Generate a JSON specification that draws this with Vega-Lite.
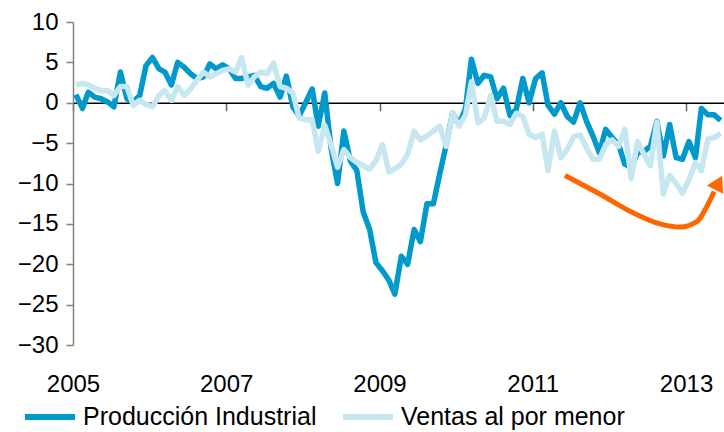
{
  "$schema": "https://vega.github.io/schema/vega-lite/v6.json",
  "width": 651,
  "height": 323,
  "autosize": {"type": "none"},
  "padding": {"left": 73, "top": 22, "right": 0, "bottom": 87},
  "background": "white",
  "config": {"view": {"stroke": null}, "font": "Liberation Sans", "axis": {"grid": false}},
  "datasets": {
    "series": [
      {"d":"2005-01-15","Producción Industrial":1.0,"Ventas al por menor":2.2},
      {"d":"2005-02-15","Producción Industrial":-0.7,"Ventas al por menor":2.4},
      {"d":"2005-03-15","Producción Industrial":1.3,"Ventas al por menor":2.2},
      {"d":"2005-04-15","Producción Industrial":0.7,"Ventas al por menor":1.8},
      {"d":"2005-05-15","Producción Industrial":0.5,"Ventas al por menor":1.5},
      {"d":"2005-06-15","Producción Industrial":0.1,"Ventas al por menor":1.5},
      {"d":"2005-07-15","Producción Industrial":-0.5,"Ventas al por menor":0.9},
      {"d":"2005-08-15","Producción Industrial":3.8,"Ventas al por menor":2.0},
      {"d":"2005-09-15","Producción Industrial":0.5,"Ventas al por menor":2.0},
      {"d":"2005-10-15","Producción Industrial":0.1,"Ventas al por menor":-0.3},
      {"d":"2005-11-15","Producción Industrial":0.9,"Ventas al por menor":0.3},
      {"d":"2005-12-15","Producción Industrial":4.6,"Ventas al por menor":-0.2},
      {"d":"2006-01-15","Producción Industrial":5.6,"Ventas al por menor":-0.5},
      {"d":"2006-02-15","Producción Industrial":4.2,"Ventas al por menor":0.9},
      {"d":"2006-03-15","Producción Industrial":3.8,"Ventas al por menor":1.5},
      {"d":"2006-04-15","Producción Industrial":2.2,"Ventas al por menor":0.3},
      {"d":"2006-05-15","Producción Industrial":5.0,"Ventas al por menor":2.0},
      {"d":"2006-06-15","Producción Industrial":4.4,"Ventas al por menor":0.9},
      {"d":"2006-07-15","Producción Industrial":3.6,"Ventas al por menor":1.7},
      {"d":"2006-08-15","Producción Industrial":3.0,"Ventas al por menor":2.8},
      {"d":"2006-09-15","Producción Industrial":3.2,"Ventas al por menor":3.8},
      {"d":"2006-10-15","Producción Industrial":4.8,"Ventas al por menor":3.2},
      {"d":"2006-11-15","Producción Industrial":4.2,"Ventas al por menor":3.6},
      {"d":"2006-12-15","Producción Industrial":4.7,"Ventas al por menor":4.0},
      {"d":"2007-01-15","Producción Industrial":4.2,"Ventas al por menor":4.2},
      {"d":"2007-02-15","Producción Industrial":3.0,"Ventas al por menor":3.8},
      {"d":"2007-03-15","Producción Industrial":3.0,"Ventas al por menor":5.6},
      {"d":"2007-04-15","Producción Industrial":3.2,"Ventas al por menor":2.2},
      {"d":"2007-05-15","Producción Industrial":3.4,"Ventas al por menor":3.2},
      {"d":"2007-06-15","Producción Industrial":2.0,"Ventas al por menor":3.8},
      {"d":"2007-07-15","Producción Industrial":1.8,"Ventas al por menor":3.6},
      {"d":"2007-08-15","Producción Industrial":2.4,"Ventas al por menor":4.9},
      {"d":"2007-09-15","Producción Industrial":0.7,"Ventas al por menor":2.0},
      {"d":"2007-10-15","Producción Industrial":3.3,"Ventas al por menor":1.8},
      {"d":"2007-11-15","Producción Industrial":-0.5,"Ventas al por menor":1.2},
      {"d":"2007-12-15","Producción Industrial":-1.6,"Ventas al por menor":-1.9},
      {"d":"2008-01-15","Producción Industrial":0.0,"Ventas al por menor":-2.1},
      {"d":"2008-02-15","Producción Industrial":1.7,"Ventas al por menor":-2.1},
      {"d":"2008-03-15","Producción Industrial":-2.9,"Ventas al por menor":-6.0},
      {"d":"2008-04-15","Producción Industrial":1.2,"Ventas al por menor":-2.8},
      {"d":"2008-05-15","Producción Industrial":-5.6,"Ventas al por menor":-5.2},
      {"d":"2008-06-15","Producción Industrial":-10.0,"Ventas al por menor":-8.0},
      {"d":"2008-07-15","Producción Industrial":-3.5,"Ventas al por menor":-5.8},
      {"d":"2008-08-15","Producción Industrial":-7.2,"Ventas al por menor":-6.8},
      {"d":"2008-09-15","Producción Industrial":-8.4,"Ventas al por menor":-7.4},
      {"d":"2008-10-15","Producción Industrial":-13.5,"Ventas al por menor":-7.8},
      {"d":"2008-11-15","Producción Industrial":-15.7,"Ventas al por menor":-8.2},
      {"d":"2008-12-15","Producción Industrial":-19.8,"Ventas al por menor":-7.2},
      {"d":"2009-01-15","Producción Industrial":-20.8,"Ventas al por menor":-5.2},
      {"d":"2009-02-15","Producción Industrial":-22.0,"Ventas al por menor":-8.6},
      {"d":"2009-03-15","Producción Industrial":-23.7,"Ventas al por menor":-8.2},
      {"d":"2009-04-15","Producción Industrial":-19.0,"Ventas al por menor":-7.6},
      {"d":"2009-05-15","Producción Industrial":-20.0,"Ventas al por menor":-6.4},
      {"d":"2009-06-15","Producción Industrial":-15.7,"Ventas al por menor":-3.5},
      {"d":"2009-07-15","Producción Industrial":-17.2,"Ventas al por menor":-4.6},
      {"d":"2009-08-15","Producción Industrial":-12.5,"Ventas al por menor":-4.1},
      {"d":"2009-09-15","Producción Industrial":-12.5,"Ventas al por menor":-3.5},
      {"d":"2009-10-15","Producción Industrial":-8.8,"Ventas al por menor":-2.9},
      {"d":"2009-11-15","Producción Industrial":-5.2,"Ventas al por menor":-5.4},
      {"d":"2009-12-15","Producción Industrial":-1.3,"Ventas al por menor":-1.3},
      {"d":"2010-01-15","Producción Industrial":-2.7,"Ventas al por menor":-2.9},
      {"d":"2010-02-15","Producción Industrial":-0.7,"Ventas al por menor":-1.5},
      {"d":"2010-03-15","Producción Industrial":5.4,"Ventas al por menor":2.6},
      {"d":"2010-04-15","Producción Industrial":2.4,"Ventas al por menor":-2.5},
      {"d":"2010-05-15","Producción Industrial":3.4,"Ventas al por menor":-1.9},
      {"d":"2010-06-15","Producción Industrial":3.2,"Ventas al por menor":0.9},
      {"d":"2010-07-15","Producción Industrial":0.5,"Ventas al por menor":-2.3},
      {"d":"2010-08-15","Producción Industrial":1.8,"Ventas al por menor":-2.3},
      {"d":"2010-09-15","Producción Industrial":-1.6,"Ventas al por menor":-2.7},
      {"d":"2010-10-15","Producción Industrial":-0.8,"Ventas al por menor":-1.3},
      {"d":"2010-11-15","Producción Industrial":3.0,"Ventas al por menor":-1.7},
      {"d":"2010-12-15","Producción Industrial":0.0,"Ventas al por menor":-3.9},
      {"d":"2011-01-15","Producción Industrial":3.0,"Ventas al por menor":-4.3},
      {"d":"2011-02-15","Producción Industrial":3.7,"Ventas al por menor":-3.9},
      {"d":"2011-03-15","Producción Industrial":-0.3,"Ventas al por menor":-8.4},
      {"d":"2011-04-15","Producción Industrial":-1.4,"Ventas al por menor":-3.5},
      {"d":"2011-05-15","Producción Industrial":0.0,"Ventas al por menor":-6.8},
      {"d":"2011-06-15","Producción Industrial":-1.7,"Ventas al por menor":-5.8},
      {"d":"2011-07-15","Producción Industrial":-2.4,"Ventas al por menor":-4.2},
      {"d":"2011-08-15","Producción Industrial":0.0,"Ventas al por menor":-4.0},
      {"d":"2011-09-15","Producción Industrial":-2.3,"Ventas al por menor":-5.6},
      {"d":"2011-10-15","Producción Industrial":-4.1,"Ventas al por menor":-7.0},
      {"d":"2011-11-15","Producción Industrial":-6.2,"Ventas al por menor":-7.0},
      {"d":"2011-12-15","Producción Industrial":-3.3,"Ventas al por menor":-5.2},
      {"d":"2012-01-15","Producción Industrial":-4.3,"Ventas al por menor":-4.6},
      {"d":"2012-02-15","Producción Industrial":-5.2,"Ventas al por menor":-5.4},
      {"d":"2012-03-15","Producción Industrial":-7.6,"Ventas al por menor":-3.3},
      {"d":"2012-04-15","Producción Industrial":-8.0,"Ventas al por menor":-9.4},
      {"d":"2012-05-15","Producción Industrial":-6.2,"Ventas al por menor":-4.8},
      {"d":"2012-06-15","Producción Industrial":-6.0,"Ventas al por menor":-6.4},
      {"d":"2012-07-15","Producción Industrial":-5.4,"Ventas al por menor":-7.8},
      {"d":"2012-08-15","Producción Industrial":-2.3,"Ventas al por menor":-2.4},
      {"d":"2012-09-15","Producción Industrial":-6.6,"Ventas al por menor":-11.3},
      {"d":"2012-10-15","Producción Industrial":-2.7,"Ventas al por menor":-9.0},
      {"d":"2012-11-15","Producción Industrial":-6.8,"Ventas al por menor":-10.0},
      {"d":"2012-12-15","Producción Industrial":-7.0,"Ventas al por menor":-11.2},
      {"d":"2013-01-15","Producción Industrial":-4.8,"Ventas al por menor":-9.5},
      {"d":"2013-02-15","Producción Industrial":-6.8,"Ventas al por menor":-7.4},
      {"d":"2013-03-15","Producción Industrial":-0.7,"Ventas al por menor":-8.4},
      {"d":"2013-04-15","Producción Industrial":-1.5,"Ventas al por menor":-4.5},
      {"d":"2013-05-15","Producción Industrial":-1.5,"Ventas al por menor":-4.3},
      {"d":"2013-06-15","Producción Industrial":-2.2,"Ventas al por menor":-3.8}
    ],
    "flecha": [
      {"d":"2011-06-04","v":-9.0},
      {"d":"2011-11-17","v":-11.3},
      {"d":"2012-04-22","v":-13.6},
      {"d":"2012-08-30","v":-15.0},
      {"d":"2012-12-03","v":-15.4},
      {"d":"2013-02-23","v":-14.7},
      {"d":"2013-04-11","v":-12.8},
      {"d":"2013-05-15","v":-11.0}
    ],
    "punta": [
      {"d":"2013-06-05","v":-9.9}
    ]
  },
  "layer": [
    {
      "data": {"name": "series"},
      "transform": [{"fold": ["Producción Industrial", "Ventas al por menor"], "as": ["serie", "valor"]}],
      "mark": {"type": "line", "strokeWidth": 5.5, "strokeJoin": "round"},
      "encoding": {
        "x": {
          "field": "d", "type": "temporal",
          "scale": {"type": "utc", "domain": [{"year": 2005, "month": 1, "date": 1, "utc": true}, {"year": 2013, "month": 7, "date": 1, "utc": true}]},
          "axis": {
            "title": null,
            "values": [
              {"year": 2005, "month": 1, "date": 1, "utc": true},
              {"year": 2007, "month": 1, "date": 1, "utc": true},
              {"year": 2009, "month": 1, "date": 1, "utc": true},
              {"year": 2011, "month": 1, "date": 1, "utc": true},
              {"year": 2013, "month": 1, "date": 1, "utc": true}
            ],
            "format": "%Y", "formatType": "utc",
            "offset": -242.25,
            "domainColor": "black", "domainWidth": 1.5,
            "tickColor": "#606060", "tickWidth": 1.5, "tickSize": 8,
            "labelPadding": 262, "labelFontSize": 24, "labelColor": "black", "labelDx": 4,
            "labelFlush": false, "labelOverlap": false
          }
        },
        "y": {
          "field": "valor", "type": "quantitative",
          "scale": {"domain": [-30, 10], "nice": false, "zero": false},
          "axis": {
            "title": null,
            "values": [-30, -25, -20, -15, -10, -5, 0, 5, 10],
            "domainColor": "#808080", "domainWidth": 1.5,
            "tickColor": "#808080", "tickWidth": 1.5, "tickSize": 7,
            "labelPadding": 8, "labelFontSize": 24, "labelColor": "black"
          }
        },
        "color": {
          "field": "serie", "type": "nominal",
          "scale": {"domain": ["Producción Industrial", "Ventas al por menor"], "range": ["#0099CC", "#C6E6F0"]},
          "legend": {
            "title": null, "orient": "none", "legendX": -51, "legendY": 367,
            "direction": "horizontal", "symbolType": "stroke", "symbolSize": 2500,
            "symbolStrokeWidth": 6, "labelFontSize": 25, "labelOffset": 5,
            "columnPadding": 14, "padding": 0, "labelLimit": 400, "labelColor": "black"
          }
        }
      }
    },
    {
      "data": {"name": "flecha"},
      "mark": {"type": "line", "color": "#FF6600", "strokeWidth": 5, "interpolate": "monotone", "strokeCap": "butt"},
      "encoding": {
        "x": {"field": "d", "type": "temporal"},
        "y": {"field": "v", "type": "quantitative"}
      }
    },
    {
      "data": {"name": "punta"},
      "mark": {"type": "point", "shape": "triangle-up", "filled": true, "color": "#FF6600", "opacity": 1, "size": 330, "angle": 27},
      "encoding": {
        "x": {"field": "d", "type": "temporal"},
        "y": {"field": "v", "type": "quantitative"}
      }
    }
  ]
}
